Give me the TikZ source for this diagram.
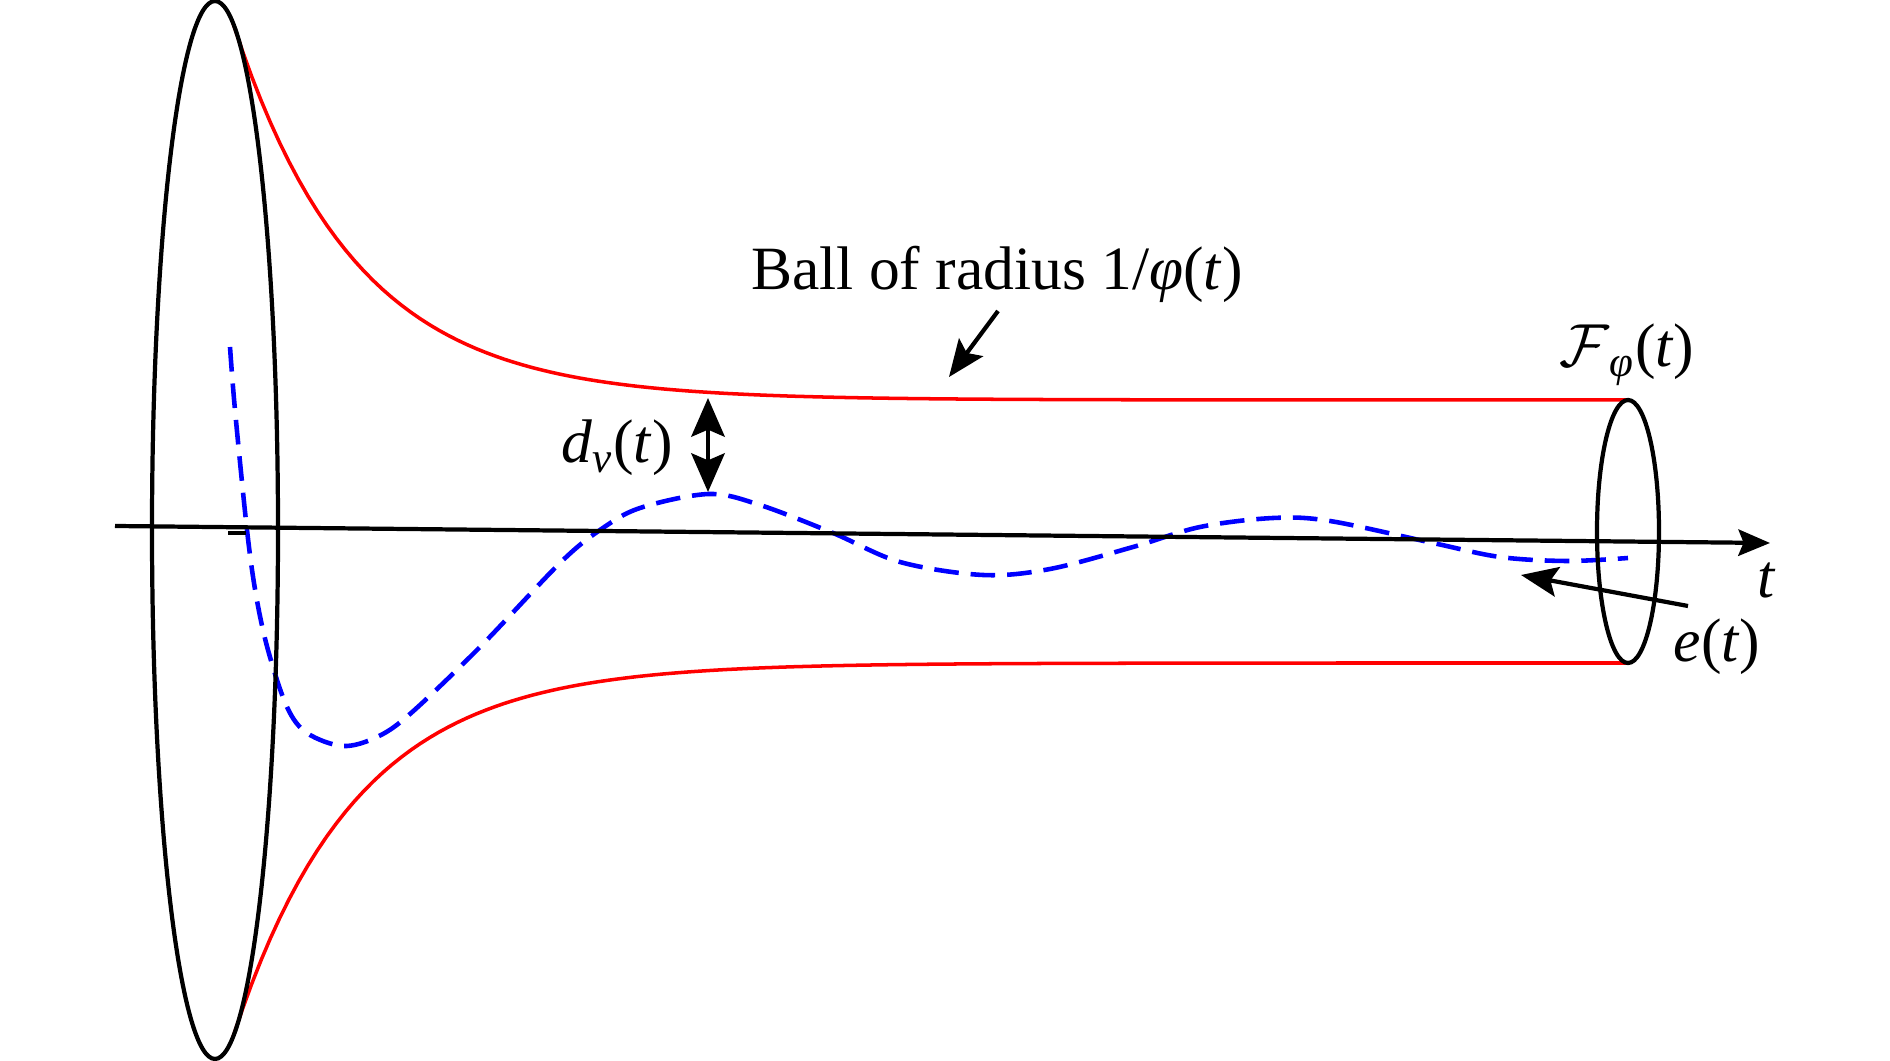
\documentclass[tikz,border=0pt]{standalone}
\usepackage{fontspec}
\setmainfont{Liberation Serif}
\usetikzlibrary{arrows.meta}
\definecolor{TubeRed}{HTML}{FF0000}
\definecolor{PathBlue}{HTML}{0000FF}

\begin{document}
\begin{tikzpicture}[x=0.01cm,y=-0.01cm,>=Stealth]
    \tikzset{
      rim/.style={line width=1.2pt},
      bound/.style={draw=TubeRed,line width=1pt},
      traj/.style={draw=PathBlue,line width=1.3pt,dash pattern=on 7pt off 3.4pt},
      lbl/.style={inner sep=0pt,anchor=base,font=\fontsize{17.5}{21}\selectfont},
      pointer/.style={line width=1.2pt,-{Stealth[length=10.5pt,width=8.5pt,inset=2pt]}}
    }
    \useasboundingbox (0,0) rectangle (1890,1061);

    % funnel boundary
    \draw[bound] plot[domain=233:1627,samples=150] (\x,{400-377*exp(-(\x-233)/122)});
    \draw[bound] plot[domain=233:1627,samples=150] (\x,{663+374*exp(-(\x-233)/122)});

    % error trajectory
    \draw[traj] plot[smooth,tension=0.55] coordinates {
      (230,347) (235,410) (247,530) (256,595) (268,650) (287,707) (307,733)
      (343,746) (377,737) (410,714) (480,647) (560,563) (600,530) (640,508)
      (709,494) (760,505) (833,533) (900,562) (983,575) (1050,569) (1133,547)
      (1200,527) (1273,518) (1330,521) (1433,543) (1500,557) (1567,561) (1628,558)};

    % sections and time axis
    \coordinate (bigC) at (215,530);
    \coordinate (endC) at (1628,531.5);
    \draw[rim] (bigC) ellipse [x radius=63,y radius=529];
    \draw[rim] (endC) ellipse [x radius=31,y radius=131.5];
    \coordinate (axisL) at (115,526);
    \coordinate (axisR) at (1770,543);
    \draw[rim,-{Stealth[length=9pt,width=7.5pt,inset=1.5pt]}] (axisL) -- (axisR);
    \coordinate (tickL) at (228,533);
    \coordinate (tickR) at (246,533);
    \draw[rim] (tickL) -- (tickR);

    % labels
    \node[lbl] (ball) at (997,290) {Ball of radius 1/\textit{φ}(\textit{t})};
    \node[lbl] (dist) at (617,463) {\textit{d}\textsubscript{\textit{v}}(\textit{t})};
    \node[lbl] (funnel) at (1627,367) {$\mathcal{F}$\textsubscript{\textit{φ}}(\textit{t})};
    \node[lbl] (time) at (1767,598) {\textit{t}};
    \node[lbl] (err) at (1717,662) {\textit{e}(\textit{t})};

    % pointers
    \coordinate (ballTail) at (998,311);
    \coordinate (ballTip) at (949,377);
    \draw[pointer] (ballTail) -- (ballTip);
    \coordinate (distTop) at (708,398);
    \coordinate (distBot) at (708,492);
    \draw[line width=1.2pt,{Stealth[length=11pt,width=9.5pt,inset=2pt]}-{Stealth[length=11pt,width=9.5pt,inset=2pt]}] (distTop) -- (distBot);
    \coordinate (errTail) at (1688,606);
    \coordinate (errTip) at (1521,575);
    \draw[pointer] (errTail) -- (errTip);
\end{tikzpicture}
\end{document}
